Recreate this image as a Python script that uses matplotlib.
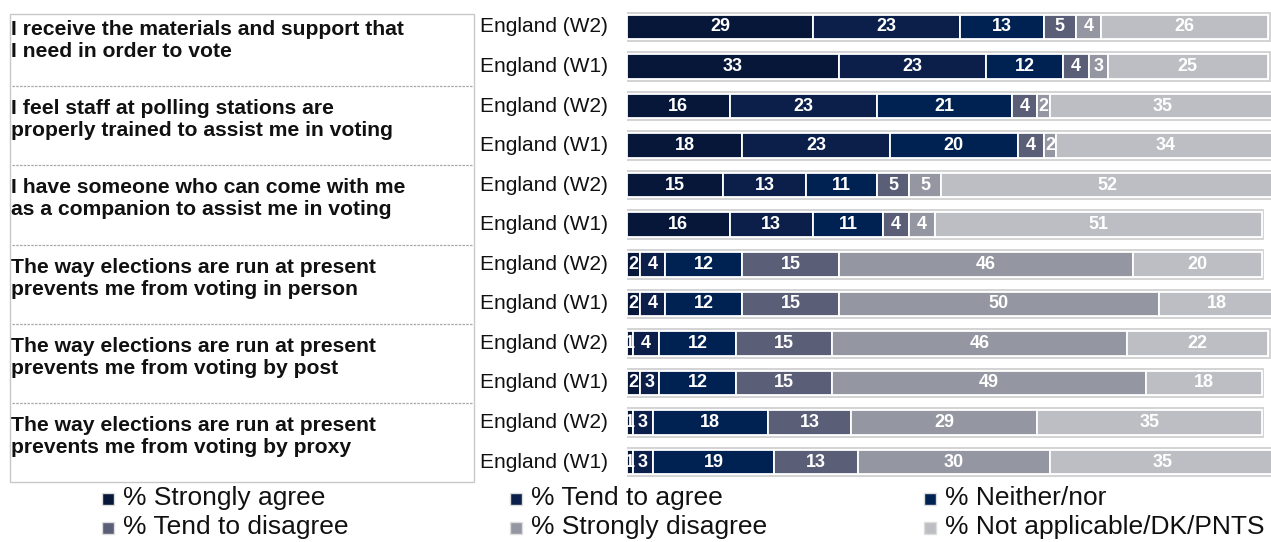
import matplotlib.pyplot as plt
import matplotlib.transforms as mtransforms
from matplotlib.patches import Rectangle

plt.rcParams['font.family'] = ['Liberation Sans', 'DejaVu Sans']

W, H = 1271, 542

# Survey statements (each one has two waves)
questions = [
    "I receive the materials and support that\nI need in order to vote",
    "I feel staff at polling stations are\nproperly trained to assist me in voting",
    "I have someone who can come with me\nas a companion to assist me in voting",
    "The way elections are run at present\nprevents me from voting in person",
    "The way elections are run at present\nprevents me from voting by post",
    "The way elections are run at present\nprevents me from voting by proxy",
]
waves = ["England (W2)", "England (W1)"] * 6

categories = ["% Strongly agree", "% Tend to agree", "% Neither/nor",
              "% Tend to disagree", "% Strongly disagree",
              "% Not applicable/DK/PNTS"]
colors = ["#07173a", "#0b1f4a", "#002252", "#5a5e76", "#9496a2", "#bdbec3"]

strongly_agree = [29, 33, 16, 18, 15, 16, 2, 2, 1, 2, 1, 1]
tend_agree = [23, 23, 23, 23, 13, 13, 4, 4, 4, 3, 3, 3]
neither = [13, 12, 21, 20, 11, 11, 12, 12, 12, 12, 18, 19]
tend_disagree = [5, 4, 4, 4, 5, 4, 15, 15, 15, 15, 13, 13]
strongly_disagree = [4, 3, 2, 2, 5, 4, 46, 50, 46, 49, 29, 30]
not_applicable = [26, 25, 35, 34, 52, 51, 20, 18, 22, 18, 35, 35]

series = [strongly_agree, tend_agree, neither, tend_disagree,
          strongly_disagree, not_applicable]

fig = plt.figure(figsize=(W / 100, H / 100), dpi=100)
ax = fig.add_axes([627 / W, 1 - 481.8 / H, 1 - 627 / W, 474.6 / H])

rows = list(range(len(waves)))
totals = [sum(vals) for vals in zip(*series)]

# light outline behind each full bar
ax.barh(rows, [t + 0.5 for t in totals], left=-0.25, height=0.72,
        color="white", edgecolor="#cccccc", linewidth=1.2, zorder=1)

left = [0] * len(rows)
for vals, col in zip(series, colors):
    ax.barh(rows, vals, left=left, height=0.62, color=col,
            edgecolor="white", linewidth=1.3, zorder=2)
    for r, (l, v) in enumerate(zip(left, vals)):
        ax.text(l + v / 2, r, str(v), ha="center", va="center",
                color="white", fontsize=13, fontweight="bold", zorder=3)
    left = [l + v for l, v in zip(left, vals)]

ax.set_xlim(0, 100.47)
ax.set_ylim(11.5, -0.5)
ax.axis("off")

# wave labels and question box on the left, sharing the bar rows
trans = mtransforms.blended_transform_factory(fig.transFigure, ax.transData)
for r, w in enumerate(waves):
    ax.text(480 / W, r, w, transform=trans, ha="left", va="center",
            fontsize=15, color="#111111", clip_on=False)

box = Rectangle((10 / W, -0.33), 464 / W, 11.83, transform=trans,
                facecolor="none", edgecolor="#c8c8c8", linewidth=1.0,
                clip_on=False)
ax.add_patch(box)
for i, q in enumerate(questions):
    ax.text(11 / W, 2 * i - 0.17, q, transform=trans, ha="left", va="top",
            fontsize=15.2, fontweight="bold", color="#111111",
            linespacing=1.2, clip_on=False)
    if i > 0:
        ax.plot([12 / W, 472 / W], [2 * i - 0.5, 2 * i - 0.5], transform=trans,
                color="#a8a8a8", linewidth=0.9, linestyle=(0, (2, 1)),
                clip_on=False)

# legend in two rows of three
legend_x = [108, 516, 930]
legend_y = [498, 527]
for k, (cat, col) in enumerate(zip(categories, colors)):
    x = legend_x[k % 3]
    y = legend_y[k // 3]
    fig.patches.append(Rectangle(((x - 6) / W, 1 - (y + 7) / H), 12 / W, 12 / H,
                                 transform=fig.transFigure, facecolor=col,
                                 edgecolor="#dddddd", linewidth=1.0))
    fig.text((x + 15) / W, 1 - y / H, cat, ha="left", va="center",
             fontsize=19, color="#111111")

fig.savefig("out.png", dpi=100)
